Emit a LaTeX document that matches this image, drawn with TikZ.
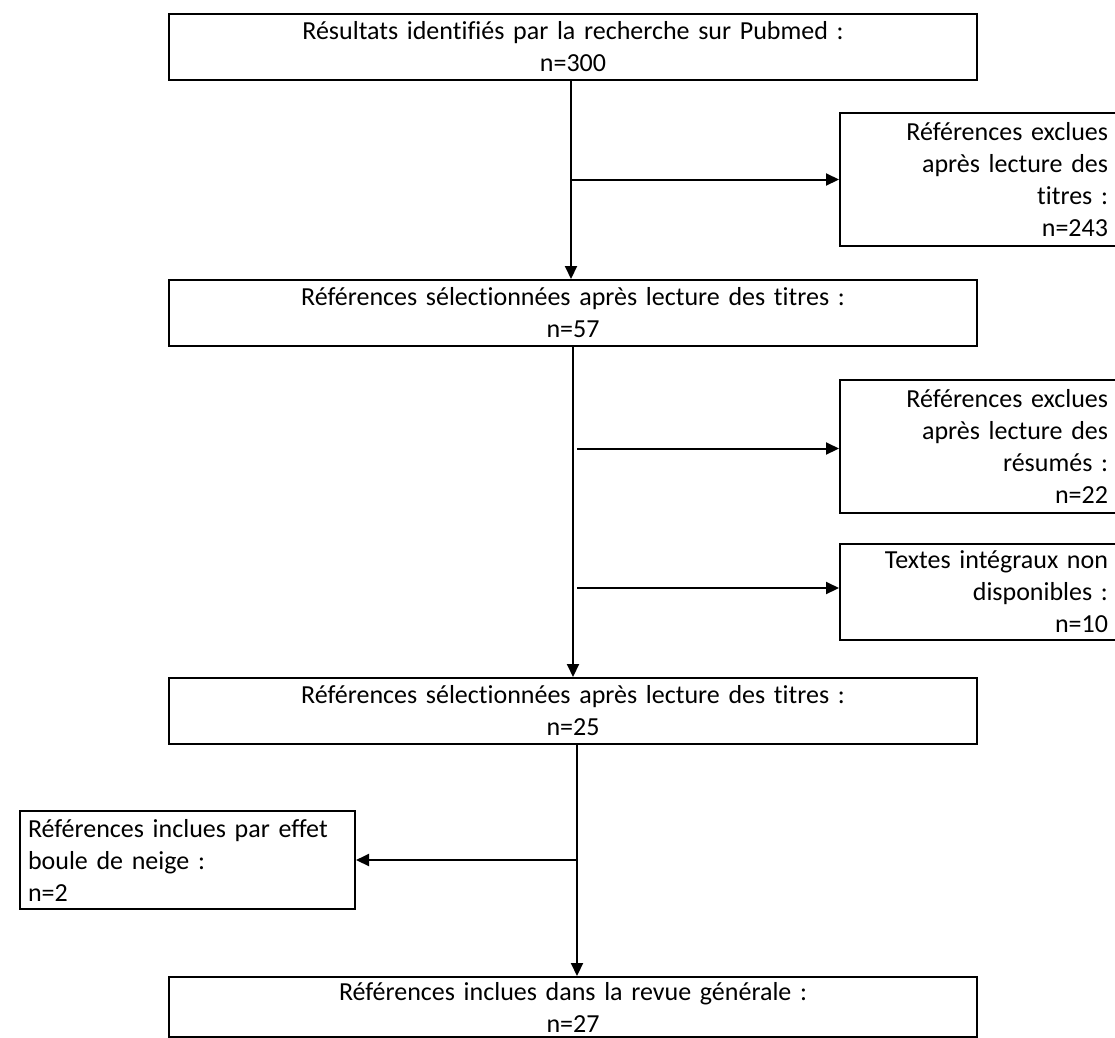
\documentclass[tikz,border=0pt]{standalone}
\usepackage{fontspec}
\setmainfont{Carlito}[Ligatures=NoCommon]
\usetikzlibrary{arrows.meta,calc}
\begin{document}
\begin{tikzpicture}[x=1pt,y=-1pt,
  every node/.style={font=\fontsize{26}{32}\selectfont},
  mainbox/.style={draw, line width=2pt, minimum width=808pt, minimum height=66pt, text width=790pt, align=center, inner sep=0pt},
  sidebox/.style={draw, line width=2pt, minimum width=300pt, text width=236pt, align=right, inner sep=0pt},
  leftbox/.style={draw, line width=2pt, minimum width=335pt, minimum height=98pt, text width=319pt, align=left, inner xsep=8pt, inner ysep=0pt},
  arr/.style={line width=2pt, -{Triangle[length=13pt,width=12pt]}}
]
\useasboundingbox (0,0) rectangle (1115,1037);
\clip (0,0) rectangle (1115,1037);

\node[mainbox] (b1) at (573,46.5) {Résultats identifiés par la recherche sur Pubmed :\\ n=300};
\node[sidebox, minimum height=133pt] (rb1) at (990,179.5) {Références exclues\\ après lecture des\\ titres :\\ n=243};
\node[mainbox] (b2) at (573,313) {Références sélectionnées après lecture des titres :\\ n=57};
\node[sidebox, minimum height=133pt] (rb2) at (990,446.5) {Références exclues\\ après lecture des\\ résumés :\\ n=22};
\node[sidebox, minimum height=96pt] (rb3) at (990,592) {Textes intégraux non\\ disponibles :\\ n=10};
\node[mainbox] (b3) at (573,711) {Références sélectionnées après lecture des titres :\\ n=25};
\node[leftbox] (sb) at (187.5,860) {Références inclues par effet\\ boule de neige :\\ n=2};
\node[mainbox, minimum height=60pt] (b4) at (573,1007) {Références inclues dans la revue générale :\\ n=27};

\draw[arr] ([xshift=-2pt]b1.south) -- ([xshift=-2pt]b2.north);
\draw[arr] ($(rb1.west -| b1.south)+(-2,0)$) -- (rb1.west);
\draw[arr] (b2.south) -- (b3.north);
\draw[arr] ($(rb2.west -| b2.south)+(4,2)$) -- ($(rb2.west)+(0,2)$);
\draw[arr] ($(rb3.west -| b2.south)+(4,-4)$) -- ($(rb3.west)+(0,-4)$);
\draw[arr] ([xshift=4pt]b3.south) -- ([xshift=4pt]b4.north);
\draw[arr] ($(sb.east -| b3.south)+(4,0)$) -- (sb.east);
\end{tikzpicture}
\end{document}
